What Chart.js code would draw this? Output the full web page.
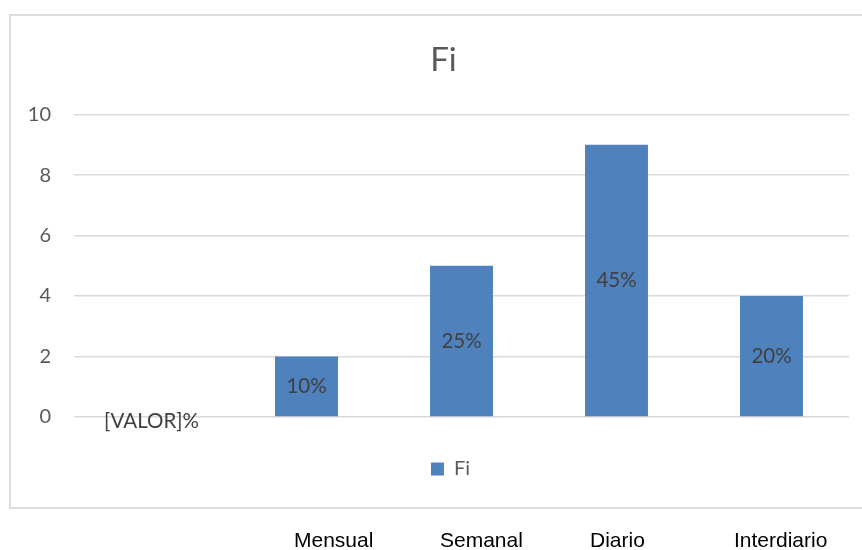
<!DOCTYPE html>
<html>
<head>
<meta charset="utf-8">
<script src="https://cdn.jsdelivr.net/npm/chart.js@4/dist/chart.umd.min.js"></script>
<style>
	html, body { margin: 0; padding: 0; background: #fff; }
	#wrap { position: relative; width: 862px; height: 550px; overflow: hidden; }
	#frame {
		position: absolute; left: 9px; top: 14px; width: 900px; height: 491px;
		border: 2px solid #dcdcdc;
	}
	#chart { position: absolute; left: 0; top: 0; }
	.cat {
		position: absolute; top: 528px;
		font-family: "Liberation Sans", Arial, sans-serif; font-size: 21px; color: #000;
	}
</style>
</head>
<body>
<div id="wrap">
	<div id="frame"></div>
	<canvas id="chart" width="862" height="550"></canvas>
</div>
<script>
// chart data
const categories = ["", "Mensual", "Semanal", "Diario", "Interdiario"];
const fiValues = [0, 2, 5, 9, 4];
const pctLabels = ["[VALOR]%", "10%", "25%", "45%", "20%"];
const yTicks = [0, 2, 4, 6, 8, 10];

// the category names sit under the frame, as text in the document
const catLeft = [0, 294, 440, 590, 734];
const wrap = document.getElementById("wrap");
categories.forEach((name, i) => {
	if (!name) return;
	const el = document.createElement("div");
	el.className = "cat";
	el.style.left = catLeft[i] + "px";
	el.textContent = name;
	wrap.appendChild(el);
});

// draw the % labels in the middle of each bar
const barLabels = {
	id: "barLabels",
	afterLayout(chart) {
		// legend and title are a little right of the canvas centre in the original
		chart.legend.left += 26;
		chart.legend.right += 26;
		chart.titleBlock.left += 19;
		chart.titleBlock.right += 19;
	},
	afterDatasetsDraw(chart) {
		const meta = chart.getDatasetMeta(0);
		const ctx = chart.ctx;
		ctx.save();
		ctx.font = "20.5px Lato, sans-serif";
		ctx.fillStyle = "#404040";
		ctx.textAlign = "center";
		ctx.textBaseline = "middle";
		meta.data.forEach((bar, i) => {
			const y = fiValues[i] === 0 ? bar.base + 4 : (bar.y + bar.base) / 2;
			ctx.fillText(pctLabels[i], bar.x, y);
		});
		ctx.restore();
	},
};

const ctx = document.getElementById("chart").getContext("2d");
new Chart(ctx, {
	type: "bar",
	data: {
		labels: categories,
		datasets: [
			{
				label: "Fi",
				data: fiValues,
				backgroundColor: "#4f81bd",
				borderWidth: 0,
				barPercentage: 0.406,
				categoryPercentage: 1,
			},
		],
	},
	options: {
		responsive: false,
		animation: false,
		layout: { padding: { left: 0, right: 13, top: 0, bottom: 61 } },
		scales: {
			x: {
				ticks: { display: false },
				grid: { display: false },
				border: { display: false },
				afterFit: (s) => { s.height = 32; },
			},
			y: {
				min: 0,
				max: 10,
				afterBuildTicks: (s) => { s.ticks = yTicks.map((v) => ({ value: v })); },
				afterFit: (s) => { s.width = 74; },
				ticks: {
					color: "#595959",
					font: { family: "Lato", size: 20 },
					padding: 23,
				},
				grid: { color: "#d9d9d9", lineWidth: 1.5, drawTicks: false },
				border: { display: false },
			},
		},
		plugins: {
			title: {
				display: true,
				text: "Fi",
				color: "#595959",
				font: { family: "Lato", size: 33, weight: "normal" },
				padding: { top: 41, bottom: 34 },
			},
			legend: {
				position: "bottom",
				labels: {
					color: "#595959",
					font: { family: "Lato", size: 20 },
					boxWidth: 13,
					boxHeight: 13,
					padding: 10,
				},
			},
			tooltip: { enabled: false },
		},
	},
	plugins: [barLabels],
});
</script>
</body>
</html>
